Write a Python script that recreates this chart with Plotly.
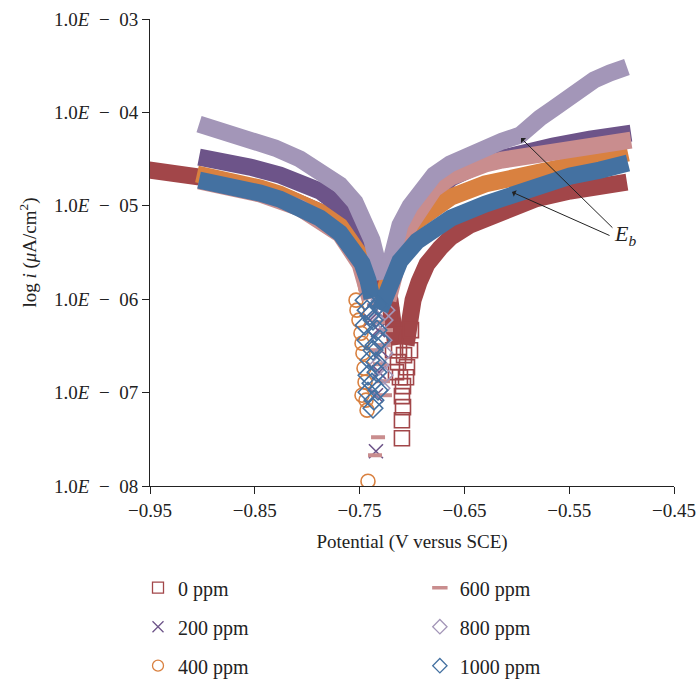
import numpy as np
import plotly.graph_objects as go

FONT = "Liberation Serif"

# ---- data (potential in V vs SCE, log10 of current density) ----
# 0 ppm
v0_cat = [-0.9576, -0.9309, -0.9023, -0.8737, -0.8450, -0.8164, -0.7878, -0.7639, -0.7448, -0.7305, -0.7210, -0.7172, -0.7153]
l0_cat = [-4.607, -4.639, -4.693, -4.757, -4.832, -4.928, -5.067, -5.239, -5.474, -5.742, -6.010, -6.278, -6.492]
v0_an = [-0.7057, -0.7029, -0.6990, -0.6933, -0.6857, -0.6733, -0.6628, -0.6447, -0.6141, -0.5826, -0.5492, -0.5206, -0.4949]
l0_an = [-6.492, -6.224, -6.010, -5.817, -5.624, -5.453, -5.335, -5.207, -5.046, -4.928, -4.842, -4.789, -4.746]
v0_tip = [-0.7200, -0.7162, -0.7010, -0.7124, -0.7076, -0.7134, -0.7048, -0.7115, -0.7086, -0.7096, -0.7086,
          -0.7096, -0.7096, -0.7181, -0.7019, -0.7153, -0.7057]
l0_tip = [-6.171, -6.385, -6.331, -6.546, -6.599, -6.674, -6.728, -6.835, -6.931, -7.038, -7.156,
          -7.296, -7.488, -6.546, -6.546, -6.781, -6.835]

# 200 ppm
v200_cat = [-0.9032, -0.8832, -0.8546, -0.8260, -0.8069, -0.7878, -0.7725, -0.7611, -0.7515, -0.7448, -0.7401]
l200_cat = [-4.478, -4.510, -4.585, -4.671, -4.746, -4.842, -4.971, -5.121, -5.303, -5.496, -5.710]
v200_tip = [-0.7382, -0.7344, -0.7324, -0.7296, -0.7315, -0.7344, -0.7401, -0.7277, -0.7344]
l200_tip = [-5.924, -6.117, -6.331, -6.546, -6.781, -7.628, -6.224, -6.010, -7.028]
v200_an = [-0.7229, -0.7153, -0.7067, -0.6952, -0.6790, -0.6628, -0.6303, -0.5979, -0.5655, -0.5302, -0.4910]
l200_an = [-5.903, -5.603, -5.346, -5.067, -4.864, -4.703, -4.532, -4.435, -4.360, -4.285, -4.221]

# 400 ppm
v400_cat = [-0.9052, -0.8737, -0.8450, -0.8260, -0.8069, -0.7878, -0.7687, -0.7573, -0.7496, -0.7458, -0.7429]
l400_cat = [-4.660, -4.725, -4.810, -4.875, -4.960, -5.067, -5.217, -5.367, -5.528, -5.710, -5.903]
v400_tip = [-0.7534, -0.7506, -0.7487, -0.7477, -0.7468, -0.7458, -0.7448, -0.7429, -0.7420, -0.7525, -0.7477, -0.7439]
l400_tip = [-6.010, -6.224, -6.364, -6.471, -6.578, -6.739, -6.888, -7.188, -7.949, -6.117, -7.028, -7.081]
v400_an = [-0.7305, -0.7219, -0.7115, -0.6952, -0.6790, -0.6628, -0.6303, -0.5979, -0.5492, -0.5206, -0.4939]
l400_an = [-6.064, -5.710, -5.400, -5.164, -5.014, -4.907, -4.767, -4.682, -4.543, -4.489, -4.435]

# 600 ppm
v600_cat = [-0.9032, -0.8737, -0.8450, -0.8069, -0.7687, -0.7496, -0.7401]
l600_cat = [-4.735, -4.788, -4.874, -5.024, -5.303, -5.625, -5.999]
v600_tip = [-0.7363, -0.7324, -0.7267, -0.7305, -0.7277, -0.7324, -0.7353, -0.7305, -0.7248, -0.7344, -0.7258]
l600_tip = [-6.064, -6.246, -6.492, -6.696, -6.878, -7.478, -7.671, -6.010, -6.331, -6.546, -7.028]
v600_an = [-0.7229, -0.7162, -0.7096, -0.7019, -0.6924, -0.6790, -0.6628, -0.6466, -0.6303, -0.6141, -0.5874, -0.5492, -0.5206, -0.4910]
l600_an = [-6.010, -5.689, -5.421, -5.207, -5.014, -4.821, -4.693, -4.607, -4.553, -4.510, -4.457, -4.393, -4.350, -4.296]

# 800 ppm
v800_cat = [-0.9032, -0.8784, -0.8546, -0.8307, -0.8069, -0.7878, -0.7687, -0.7544, -0.7448, -0.7382, -0.7334, -0.7305]
l800_cat = [-4.125, -4.200, -4.285, -4.382, -4.500, -4.618, -4.778, -4.960, -5.153, -5.367, -5.582, -5.796]
v800_tip = [-0.7296, -0.7277, -0.7286, -0.7277, -0.7277, -0.7305, -0.7258, -0.7315]
l800_tip = [-6.010, -6.224, -6.439, -6.578, -6.814, -6.953, -6.117, -6.706]
v800_an = [-0.7248, -0.7191, -0.7115, -0.7019, -0.6924, -0.6790, -0.6637, -0.6475, -0.6303, -0.6141, -0.5969, -0.5884, -0.5779, -0.5655, -0.5540, -0.5426, -0.5263, -0.5111, -0.4949]
l800_an = [-5.796, -5.474, -5.207, -5.003, -4.853, -4.671, -4.553, -4.457, -4.371, -4.307, -4.243, -4.146, -4.060, -3.964, -3.857, -3.771, -3.653, -3.578, -3.514]

# 1000 ppm
v1000_cat = [-0.9032, -0.8737, -0.8450, -0.8260, -0.8069, -0.7878, -0.7687, -0.7573, -0.7477, -0.7420, -0.7382]
l1000_cat = [-4.725, -4.778, -4.864, -4.928, -5.014, -5.132, -5.292, -5.442, -5.614, -5.796, -5.989]
v1000_tip = [-0.7429, -0.7372, -0.7334, -0.7429, -0.7372, -0.7401, -0.7334, -0.7382, -0.7420, -0.7363, -0.7372,
             -0.7448, -0.7324, -0.7401, -0.7305, -0.7448, -0.7353, -0.7420, -0.7324, -0.7344]
l1000_tip = [-6.117, -6.224, -6.331, -6.439, -6.546, -6.653, -6.781, -6.899, -6.996, -7.081, -7.167,
             -6.010, -6.064, -6.171, -6.439, -6.278, -6.492, -6.814, -6.974, -6.674]
v1000_an = [-0.7305, -0.7229, -0.7115, -0.6952, -0.6790, -0.6628, -0.6303, -0.6008, -0.5731, -0.5492, -0.5206, -0.4939]
l1000_an = [-6.117, -5.849, -5.592, -5.378, -5.239, -5.132, -4.982, -4.864, -4.757, -4.682, -4.618, -4.543]

series_names = ["0 ppm", "200 ppm", "400 ppm", "600 ppm", "800 ppm", "1000 ppm"]
colors = ["#A24649", "#6D5489", "#D98140", "#C98D8E", "#A396B8", "#4471A1"]
symbols = ["square-open", "x-thin-open", "circle-open", "line-ew-open", "diamond-open", "diamond-open"]

x_ticks = [-0.95, -0.85, -0.75, -0.65, -0.55, -0.45]
x_ticktext = ["\u22120.95", "\u22120.85", "\u22120.75", "\u22120.65", "\u22120.55", "\u22120.45"]
y_ticks = [1e-8, 1e-7, 1e-6, 1e-5, 1e-4, 1e-3]
SP = "\u2002"
y_ticktext = [f"1.0<i>E</i>{SP}\u2212{SP}0{n}" for n in ["8", "7", "6", "5", "4", "3"]]

data = [
    (v0_cat, l0_cat, v0_an, l0_an, v0_tip, l0_tip),
    (v200_cat, l200_cat, v200_an, l200_an, v200_tip, l200_tip),
    (v400_cat, l400_cat, v400_an, l400_an, v400_tip, l400_tip),
    (v600_cat, l600_cat, v600_an, l600_an, v600_tip, l600_tip),
    (v800_cat, l800_cat, v800_an, l800_an, v800_tip, l800_tip),
    (v1000_cat, l1000_cat, v1000_an, l1000_an, v1000_tip, l1000_tip),
]

fig = go.Figure()
BAND = 17
tip_sizes = [15, 14, 14, 10, 15, 15]

for k, (vc, lc, va, la, vt, lt) in enumerate(data):
    col = colors[k]
    fig.add_trace(go.Scatter(x=vc, y=10 ** np.array(lc), mode="lines",
                             line=dict(color=col, width=BAND), showlegend=False, hoverinfo="skip"))
    fig.add_trace(go.Scatter(x=va, y=10 ** np.array(la), mode="lines",
                             line=dict(color=col, width=BAND), showlegend=False, hoverinfo="skip"))
    mk = dict(symbol=symbols[k], size=tip_sizes[k], color=col, line=dict(color=col, width=1.6))
    if symbols[k].startswith("line-ew"):
        mk = dict(symbol="line-ew", size=10, color=col, line=dict(color=col, width=4))
    fig.add_trace(go.Scatter(x=vt, y=10 ** np.array(lt), mode="markers", marker=mk,
                             showlegend=False, hoverinfo="skip"))
    if k == 0:
        # first measured point of the 0 ppm scan lies just left of the axis
        fig.add_trace(go.Scatter(x=[vc[0]], y=[10 ** lc[0]], mode="markers", cliponaxis=False,
                                 marker=dict(symbol="square", size=16, color=col),
                                 showlegend=False, hoverinfo="skip"))

# legend entries (two columns)
legend_ids = ["legend", "legend", "legend", "legend2", "legend2", "legend2"]
for k, name in enumerate(series_names):
    if symbols[k].startswith("line-ew"):
        mk = dict(symbol="line-ew", size=11, color=colors[k], line=dict(color=colors[k], width=3.5))
    else:
        mk = dict(symbol=symbols[k], size=11, color=colors[k], line=dict(color=colors[k], width=1.3))
    fig.add_trace(go.Scatter(x=[None], y=[None], mode="markers", name=name, marker=mk,
                             legendgroup=name, legend=legend_ids[k], showlegend=True))

# E_b annotations
fig.add_annotation(x=-0.5960, y=-4.275, ax=-0.5073, ay=-5.250, xref="x", yref="y", axref="x", ayref="y",
                   text="", showarrow=True, arrowhead=1, arrowsize=1.2, arrowwidth=1, arrowcolor="#222")
fig.add_annotation(x=-0.6046, y=-4.853, ax=-0.5101, ay=-5.325, xref="x", yref="y", axref="x", ayref="y",
                   text="", showarrow=True, arrowhead=1, arrowsize=1.2, arrowwidth=1, arrowcolor="#222")
fig.add_annotation(x=-0.4968, y=-5.314, xref="x", yref="y", text="<i>E<sub>b</sub></i>", showarrow=False,
                   font=dict(family=FONT, size=22, color="#222"))

axis_common = dict(showline=True, linecolor="#222", linewidth=1, ticks="outside", ticklen=7,
                   tickcolor="#222", tickwidth=1, showgrid=False, zeroline=False,
                   tickfont=dict(family=FONT, size=19, color="#222"))

fig.update_layout(
    width=696, height=680,
    margin=dict(l=150, r=22, t=19, b=194, autoexpand=False),
    paper_bgcolor="white", plot_bgcolor="white",
    font=dict(family=FONT, size=19, color="#222"),
    xaxis=dict(range=[-0.95, -0.45], tickvals=x_ticks, ticktext=x_ticktext,
               title=dict(text="Potential (V versus SCE)", font=dict(family=FONT, size=19), standoff=14),
               **axis_common),
    yaxis=dict(type="log", range=[-8, -3], tickvals=y_ticks, ticktext=y_ticktext,
               title=dict(text="log <i>i</i> (<i>\u03bc</i>A/cm<sup>2</sup>)", font=dict(family=FONT, size=19),
                          standoff=12),
               **axis_common),
    legend=dict(x=-0.0229, y=-0.176, xanchor="left", yanchor="top", orientation="v",
                tracegroupgap=10, font=dict(family=FONT, size=20), bgcolor="rgba(0,0,0,0)"),
    legend2=dict(x=0.515, y=-0.176, xanchor="left", yanchor="top", orientation="v",
                 tracegroupgap=10, font=dict(family=FONT, size=20), bgcolor="rgba(0,0,0,0)"),
    showlegend=True,
)

fig.write_html("out.html")
